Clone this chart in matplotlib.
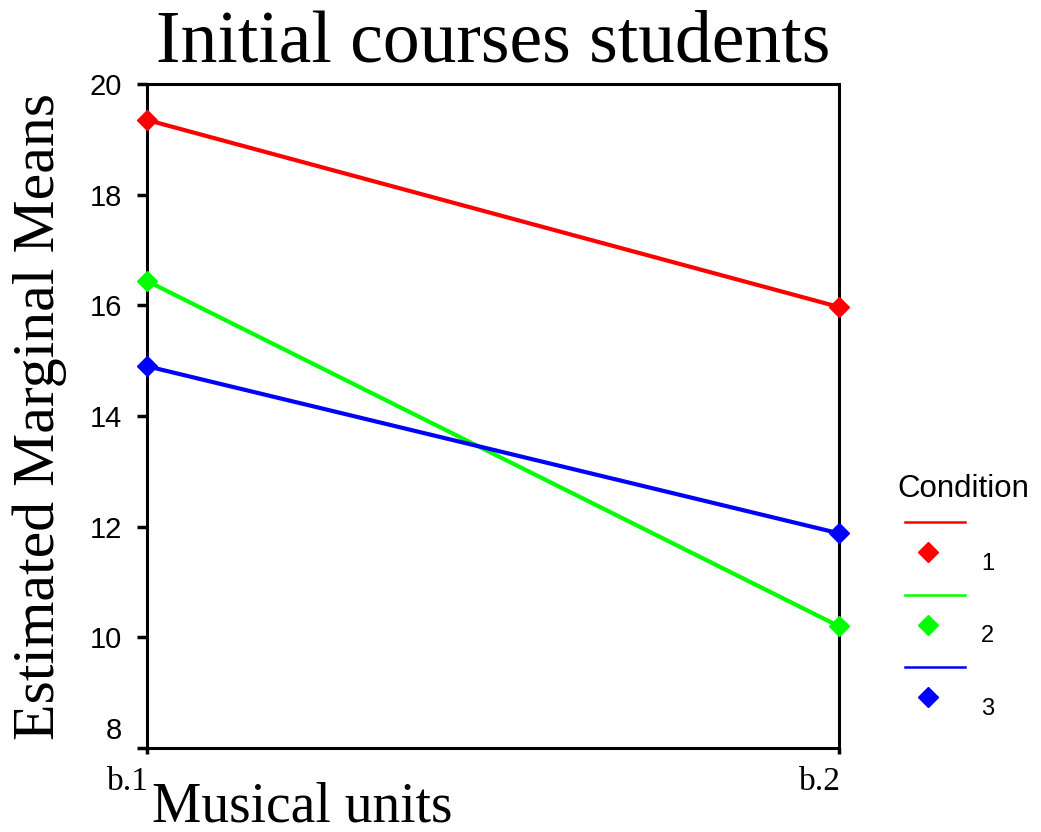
import matplotlib
matplotlib.use("Agg")
import matplotlib.pyplot as plt
import matplotlib.transforms as mtransforms
from matplotlib.lines import Line2D

# Data
categories = ["b.1", "b.2"]
conditions = ["1", "2", "3"]
cond1 = [19.35, 15.97]
cond2 = [16.44, 10.20]
cond3 = [14.90, 11.88]
series = [cond1, cond2, cond3]
colors = ["#FF0000", "#00FF00", "#0000FF"]
yticks = [8, 10, 12, 14, 16, 18, 20]

W, H = 1041, 832
fig = plt.figure(figsize=(W / 100, H / 100), dpi=100)
L, R, T, B = 147, 839, 84, 748
ax = fig.add_axes([L / W, 1 - B / H, (R - L) / W, (B - T) / H])

x = list(range(len(categories)))
for vals, c in zip(series, colors):
    ax.plot(x, vals, color=c, lw=3, marker="D", ms=10, mec=c, mfc=c,
            clip_on=False, zorder=5)

ax.set_xlim(0, len(categories) - 1)
ax.set_ylim(8, 20)
ax.set_xticks(x)
ax.set_xticklabels(categories, fontfamily="Liberation Serif", fontsize=24, ha="right")
ax.set_yticks(yticks)
ax.set_yticklabels([str(v) for v in yticks], fontfamily="Liberation Sans", fontsize=21)
ax.tick_params(axis="y", direction="out", length=7, width=2.5, pad=11)
ax.tick_params(axis="x", direction="out", length=4, width=2.5, pad=9)
for s in ax.spines.values():
    s.set_linewidth(2.2)
    s.set_color("black")

# shift bottom y label "8" upward like reference
lab8 = ax.get_yticklabels()[0]
lab8.set_transform(lab8.get_transform() + mtransforms.ScaledTranslation(0, 20 / 100, fig.dpi_scale_trans))
# shift x ticklabels slightly right
for t in ax.get_xticklabels():
    t.set_transform(t.get_transform() + mtransforms.ScaledTranslation(2 / 100, 0, fig.dpi_scale_trans))

ax.set_title("Initial courses students", fontfamily="Liberation Serif", fontsize=53, pad=16)
ax.set_ylabel("Estimated Marginal Means", fontfamily="Liberation Serif", fontsize=43)
ax.yaxis.set_label_coords((67 - L) / (R - L), 0.5)
ax.set_xlabel("Musical units", fontfamily="Liberation Serif", fontsize=40, ha="left", va="baseline")
ax.xaxis.set_label_coords(5 / (R - L), -(822 - B) / (B - T))

# Legend (SPSS style: line above marker)
def fx(px):
    return px / W

def fy(py):
    return 1 - py / H

fig.text(fx(897), fy(497), "Condition", fontfamily="Liberation Sans", fontsize=22.5,
         ha="left", va="baseline")
step = 72.5
for i, (lab, c) in enumerate(zip(conditions, colors)):
    y0 = 522 + i * step
    fig.add_artist(Line2D([fx(905), fx(965)], [fy(y0), fy(y0)], color=c, lw=1.8,
                          transform=fig.transFigure))
    fig.add_artist(Line2D([fx(928)], [fy(y0 + 30)], marker="D", ms=10, color=c,
                          mec=c, mfc=c, transform=fig.transFigure))
    fig.text(fx(981), fy(y0 + 42), lab, fontfamily="Liberation Sans", fontsize=17,
             ha="left", va="center")

fig.savefig("out.png", dpi=100, facecolor="white")
